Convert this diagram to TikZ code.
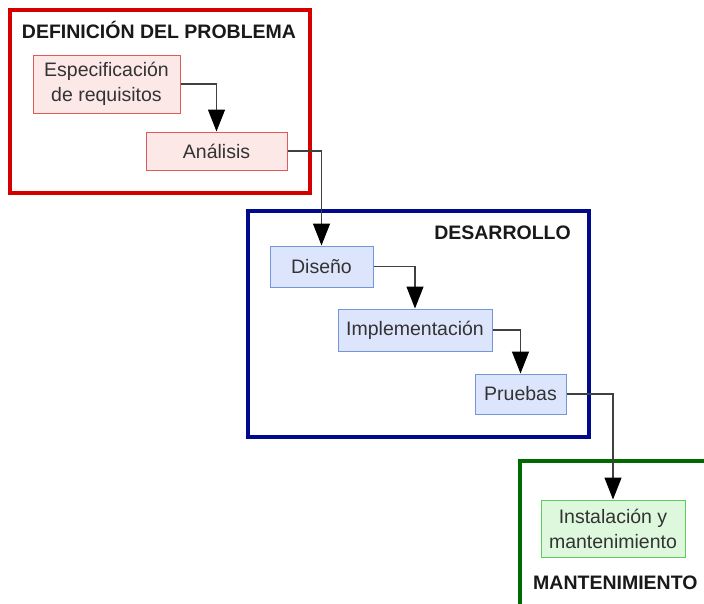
\documentclass[tikz,border=0pt]{standalone}
\usepackage{fontspec}
\setmainfont{Liberation Sans}
\usetikzlibrary{arrows.meta}
\definecolor{rojoMarco}{HTML}{D40000}
\definecolor{rojoBorde}{HTML}{E05A5A}
\definecolor{rojoFondo}{HTML}{FDE8E8}
\definecolor{azulMarco}{HTML}{000A8C}
\definecolor{azulBorde}{HTML}{7396DA}
\definecolor{azulFondo}{HTML}{DCE5FB}
\definecolor{verdeMarco}{HTML}{006A00}
\definecolor{verdeBorde}{HTML}{5FCB5F}
\definecolor{verdeFondo}{HTML}{DDF8DD}

\begin{document}
\begin{tikzpicture}[x=1pt, y=-1pt,
    marco/.style={line width=3.5pt},
    titulo/.style={font=\fontsize{19.5}{22}\selectfont\bfseries, text=black!90, inner sep=0pt},
    caja/.style={draw, line width=1pt, align=center, inner sep=0pt, text=black!80, font=\fontsize{19.5}{25}\selectfont},
    flecha/.style={-{Triangle[length=22pt,width=17pt,color=black]}, line width=1.3pt, black!75}]
    \clip (0,0) rectangle (704,603);
    \fill[white] (0,0) rectangle (704,603);

    % Draw the three phase frames
    \draw[marco, rojoMarco] (10,10) rectangle (310,193);
    \draw[marco, azulMarco] (248,211) rectangle (589,437);
    \draw[marco, verdeMarco] (520,461) rectangle (720,620);

    % Frame titles
    \node[titulo] (titDef) at (159,30) {DEFINICIÓN DEL PROBLEMA};
    \node[titulo, anchor=east] (titDes) at (571,233) {DESARROLLO};
    \node[titulo, anchor=west] (titMan) at (533,583) {MANTENIMIENTO};

    % Steps of each phase
    \node[caja, draw=rojoBorde, fill=rojoFondo, minimum width=147pt, minimum height=58pt] (esp) at (106.5,84) {Especificación\\de requisitos};
    \node[caja, draw=rojoBorde, fill=rojoFondo, minimum width=141pt, minimum height=38pt] (ana) at (216.5,151) {Análisis};
    \node[caja, draw=azulBorde, fill=azulFondo, minimum width=103pt, minimum height=41pt] (dis) at (321.5,266.5) {Diseño};
    \node[caja, draw=azulBorde, fill=azulFondo, minimum width=154pt, minimum height=42pt] (imp) at (415,330) {Implementación};
    \node[caja, draw=azulBorde, fill=azulFondo, minimum width=91pt, minimum height=40pt] (pru) at (520.5,394) {Pruebas};
    \node[caja, draw=verdeBorde, fill=verdeFondo, minimum width=144pt, minimum height=57pt] (ins) at (613,528.5) {Instalación y\\mantenimiento};

    % Draw the connectors, right side to the top of the next step
    \draw[flecha] (esp.east) -| (ana.north);
    \draw[flecha] (ana.east) -| (dis.north);
    \draw[flecha] (dis.east) -| (imp.north);
    \draw[flecha] (imp.east) -| (pru.north);
    \draw[flecha] (pru.east) -| (ins.north);
\end{tikzpicture}
\end{document}
